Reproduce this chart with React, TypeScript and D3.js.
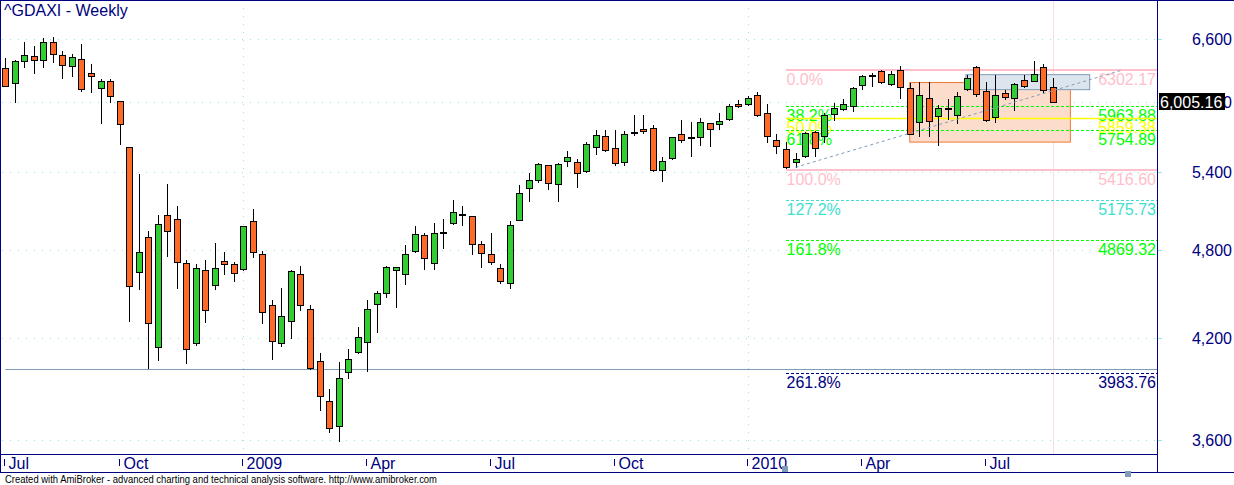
import React from 'react';
import * as d3 from 'd3';

const TITLE = '^GDAXI - Weekly';
const FOOTER = 'Created with AmiBroker - advanced charting and technical analysis software. http://www.amibroker.com';

// Weekly OHLC, week of 11 Jul 2008 .. 20 Aug 2010
const opens = [
  6314, 6179, 6381, 6430, 6397, 6567, 6440, 6334, 6400, 6267, 6132, 6194, 6010, 5604, 4640, 4892, 4143, 5057, 5026, 4703,
  4168, 4654, 4549, 4718, 4696, 4661, 5011, 4768, 4414, 4168, 4308, 4626, 4387, 4056, 3818, 3676, 3989, 4111, 4174, 4420,
  4494, 4654, 4626, 4789, 4906, 4703, 4931, 4996, 5069, 5049, 4840, 4768, 4668, 4563, 5019, 5267, 5331, 5453, 5300, 5487,
  5479, 5404, 5604, 5698, 5596, 5479, 5734, 5759, 5767, 5412, 5511, 5716, 5689, 5689, 5811, 5802, 5846, 5980, 5980, 6061,
  5900, 5663, 5587, 5479, 5528, 5733, 5698, 5891, 5935, 5962, 6154, 6247, 6286, 6163, 6296, 6126, 5820, 6034, 5873, 5944,
  5882, 6117, 6324, 6098, 5864, 6079, 6034, 6201, 6192, 6324, 6135,
];
const highs = [
  6410, 6394, 6567, 6531, 6607, 6623, 6482, 6452, 6554, 6358, 6213, 6216, 6012, 5606, 5382, 4938, 5059, 5302, 5128, 4727,
  4696, 4727, 4849, 4784, 4711, 4978, 5105, 4794, 4449, 4533, 4656, 4684, 4414, 4105, 3888, 4050, 4130, 4270, 4447, 4508,
  4682, 4678, 4833, 4973, 4921, 4996, 5026, 5173, 5126, 5051, 4862, 4921, 4696, 5011, 5291, 5388, 5470, 5456, 5470, 5573,
  5503, 5646, 5750, 5750, 5750, 5742, 5882, 5882, 5793, 5520, 5692, 5837, 5820, 5855, 5813, 5900, 5980, 6016, 6052, 6088,
  5980, 5716, 5646, 5553, 5733, 5742, 5900, 5989, 6025, 6135, 6247, 6266, 6296, 6286, 6334, 6173, 6182, 6182, 5971, 6025,
  6088, 6247, 6334, 6182, 6247, 6107, 6173, 6247, 6381, 6353, 6219,
];
const lows = [
  6148, 6004, 6330, 6273, 6330, 6377, 6225, 6244, 6104, 6095, 5816, 6004, 5629, 4312, 4526, 4017, 4066, 4758, 4533, 4044,
  4159, 4306, 4526, 4630, 4581, 4658, 4750, 4300, 4072, 4153, 4203, 4381, 4010, 3770, 3643, 3594, 3953, 4109, 3995, 4238,
  4468, 4400, 4556, 4787, 4661, 4661, 4811, 4994, 4981, 4768, 4675, 4696, 4563, 4529, 5017, 5165, 5316, 5260, 5165, 5445,
  5275, 5402, 5544, 5570, 5453, 5453, 5707, 5724, 5404, 5326, 5508, 5646, 5528, 5620, 5612, 5759, 5844, 5960, 5971, 5873,
  5646, 5553, 5435, 5437, 5520, 5528, 5646, 5837, 5926, 5917, 6117, 6145, 6173, 6154, 6034, 5714, 5698, 5698, 5620, 5846,
  5811, 6115, 6052, 5835, 5820, 6025, 5926, 6135, 6190, 6079, 6003,
];
const closes = [
  6150, 6381, 6440, 6397, 6567, 6450, 6343, 6420, 6123, 6239, 6194, 6058, 5802, 4543, 4782, 4295, 4989, 4936, 4711, 4130,
  4668, 4381, 4668, 4696, 4632, 4975, 4782, 4367, 4180, 4341, 4647, 4414, 4013, 3847, 3665, 3953, 4068, 4206, 4387, 4494,
  4675, 4675, 4768, 4914, 4739, 4921, 4931, 5079, 5069, 4840, 4775, 4711, 4577, 4981, 5228, 5331, 5462, 5308, 5462, 5520,
  5388, 5629, 5707, 5579, 5470, 5716, 5734, 5742, 5412, 5487, 5689, 5663, 5689, 5820, 5759, 5829, 5962, 5962, 6034, 5882,
  5698, 5612, 5437, 5503, 5724, 5596, 5882, 5944, 5980, 6126, 6238, 6247, 6182, 6257, 6135, 5716, 6061, 5829, 5944, 5944,
  6052, 6219, 6070, 5837, 6061, 6043, 6163, 6145, 6257, 6108, 6005.16,
];

const xTickBars = [0, 12, 25, 38, 51, 64, 78, 90, 103];
const xTickLabels = ['Jul', 'Oct', '2009', 'Apr', 'Jul', 'Oct', '2010', 'Apr', 'Jul'];
const yTickValues = [3600, 4200, 4800, 5400, 6000, 6600];

const fibLabels = ['0.0%', '38.2%', '50.0%', '61.8%', '100.0%', '127.2%', '161.8%', '261.8%'];
const fibValues = [6302.17, 5963.88, 5859.38, 5754.89, 5416.6, 5175.73, 4869.32, 3983.76];
const fibStartBar = 82;

const trendBars = [83, 117.4];
const trendValues = [5437, 6300];

const orangeBoxBars = [95, 111.87];
const orangeBoxValues = [6180, 5648];
const blueBoxBars = [100.9, 113.9];
const blueBoxValues = [6254, 6114];

const supportStartBar = 0;
const supportValue = 4007;
const cursorBar = 110;
const lastPrice = 6005.16;

// ---- styles ----
const NAVY = '#000080';
const GREEN = '#32CD32';
const ORANGE = '#FF6A28';
const GRID = '#96E3E3';
const STEEL = '#7F9DB9';
const FONT = "'Liberation Sans', Arial, sans-serif";
const fibStyles = [
  { color: '#FFC0CB', width: 2, dash: undefined },
  { color: '#00FF00', width: 1, dash: '3,2' },
  { color: '#FFFF00', width: 1.5, dash: undefined },
  { color: '#00FF00', width: 1, dash: '3,2' },
  { color: '#FFC0CB', width: 2, dash: undefined },
  { color: '#40E0D0', width: 1, dash: '3,2' },
  { color: '#00FF00', width: 1, dash: '3,2' },
  { color: NAVY, width: 1, dash: '3,2' },
];

const W = 1234;
const H = 485;
const PLOT_L = 0;
const PLOT_R = 1157;
const PLOT_B = 454;
const AXIS_B = 473;

export default function App() {
  const x = d3.scaleLinear().domain([-0.35, 121]).range([2, 1157.3]);
  const y = d3.scaleLog().domain([3525, 7001]).range([PLOT_B, 0]);
  const px = (i: number) => Math.round(x(i)) + 0.5;
  const py = (v: number) => Math.round(y(v)) + 0.5;
  const fmt = d3.format(',');

  const oX0 = x(orangeBoxBars[0]);
  const oX1 = x(orangeBoxBars[1]);
  const oY0 = y(orangeBoxValues[0]);
  const oY1 = y(orangeBoxValues[1]);
  const bX0 = x(blueBoxBars[0]);
  const bX1 = x(blueBoxBars[1]);
  const bY0 = y(blueBoxValues[0]);
  const bY1 = y(blueBoxValues[1]);

  const trendLine = d3
    .line<number>()
    .x((_, i) => x(trendBars[i]))
    .y((v) => y(v))(trendValues) as string;

  return (
    <svg
      width={W}
      height={H}
      style={{ position: 'absolute', left: 0, top: 0, background: '#fff' }}
      fontFamily={FONT}
    >
      <rect x={0} y={0} width={W} height={H} fill="#fff" />

      {/* grid */}
      {yTickValues.map((v) => (
        <g key={'g' + v}>
          <line x1={2} x2={PLOT_R} y1={py(v)} y2={py(v)} stroke={GRID} strokeDasharray="1,7" />
          <line x1={PLOT_R} x2={PLOT_R + 5} y1={py(v)} y2={py(v)} stroke={GRID} />
        </g>
      ))}
      {xTickBars.map((b, i) =>
        /^\d{4}$/.test(xTickLabels[i]) ? (
          <line key={'vg' + i} x1={px(b)} x2={px(b)} y1={0} y2={PLOT_B} stroke={GRID} strokeDasharray="1,7" />
        ) : null
      )}

      {/* cursor */}
      <line x1={px(cursorBar)} x2={px(cursorBar)} y1={0} y2={PLOT_B} stroke="#FFDCDC" />

      {/* boxes */}
      <rect x={oX0} y={oY0} width={oX1 - oX0} height={oY1 - oY0} fill="#FCDCCB" stroke="#F07838" />
      <rect x={bX0} y={bY0} width={bX1 - bX0} height={bY1 - bY0} fill="#DCE4EE" stroke={STEEL} />

      {/* support line */}
      <line x1={x(supportStartBar)} x2={PLOT_R} y1={py(supportValue)} y2={py(supportValue)} stroke={STEEL} />

      {/* fib levels */}
      {fibValues.map((v, i) => {
        const s = fibStyles[i];
        const yy = s.width === 2 ? Math.round(y(v)) : py(v);
        return (
          <g key={'f' + i}>
            <line
              x1={x(fibStartBar)}
              x2={PLOT_R}
              y1={yy}
              y2={yy}
              stroke={s.color}
              strokeWidth={s.width}
              strokeDasharray={s.dash}
            />
            <text x={x(fibStartBar) + 0.5} y={y(v) + 15} fontSize={16} fill={s.color}>
              {fibLabels[i]}
            </text>
            <text x={PLOT_R - 1} y={y(v) + 15} fontSize={16} fill={s.color} textAnchor="end">
              {v.toFixed(2)}
            </text>
          </g>
        );
      })}

      {/* candles */}
      {opens.map((o, i) => {
        const c = closes[i];
        const cx = px(i);
        const top = py(Math.max(o, c));
        const bot = py(Math.min(o, c));
        const fill = c > o ? GREEN : c < o ? ORANGE : '#000';
        return (
          <g key={'c' + i}>
            <line x1={cx} x2={cx} y1={Math.round(y(highs[i]))} y2={Math.round(y(lows[i])) + 1} stroke="#000" />
            <rect x={cx - 3} y={top} width={6} height={Math.max(bot - top, 1)} fill={fill} stroke="#000" />
          </g>
        );
      })}

      {/* trend line */}
      <path d={trendLine} fill="none" stroke={STEEL} strokeDasharray="3,3" />

      {/* frame */}
      <line x1={0} x2={W} y1={0.5} y2={0.5} stroke={NAVY} />
      <line x1={0.5} x2={0.5} y1={0} y2={AXIS_B} stroke={NAVY} />
      <line x1={PLOT_R + 0.5} x2={PLOT_R + 0.5} y1={0} y2={AXIS_B} stroke={NAVY} />
      <line x1={PLOT_L} x2={PLOT_R} y1={PLOT_B + 0.5} y2={PLOT_B + 0.5} stroke={NAVY} />
      <line x1={0} x2={W} y1={AXIS_B - 0.5} y2={AXIS_B - 0.5} stroke={NAVY} />

      {/* title */}
      <text x={4} y={16} fontSize={16} fill={NAVY}>
        {TITLE}
      </text>

      {/* y axis labels */}
      {yTickValues.map((v) => (
        <text key={'yl' + v} x={1232} y={y(v) + 6} fontSize={16} fill={NAVY} textAnchor="end">
          {fmt(v)}
        </text>
      ))}

      {/* last price label */}
      <rect x={1159} y={y(lastPrice) - 8.5} width={66} height={17} fill="#000" />
      <text x={1160} y={y(lastPrice) + 6} fontSize={16} fill="#fff">
        {d3.format(',.2f')(lastPrice)}
      </text>

      {/* x axis */}
      {xTickBars.map((b, i) => (
        <g key={'xt' + i}>
          <line x1={px(b) - 1} x2={px(b) - 1} y1={459} y2={466} stroke={NAVY} />
          <text x={px(b) + 3} y={468.5} fontSize={16} fill={NAVY}>
            {xTickLabels[i]}
          </text>
        </g>
      ))}

      {/* scroll markers */}
      <rect x={782} y={466} width={6} height={6} fill={STEEL} />
      <rect x={1125} y={471} width={6} height={6} fill={STEEL} />

      {/* footer */}
      <text x={5} y={482.5} fontSize={11} fill="#000" textLength={432} lengthAdjust="spacingAndGlyphs">
        {FOOTER}
      </text>
    </svg>
  );
}
